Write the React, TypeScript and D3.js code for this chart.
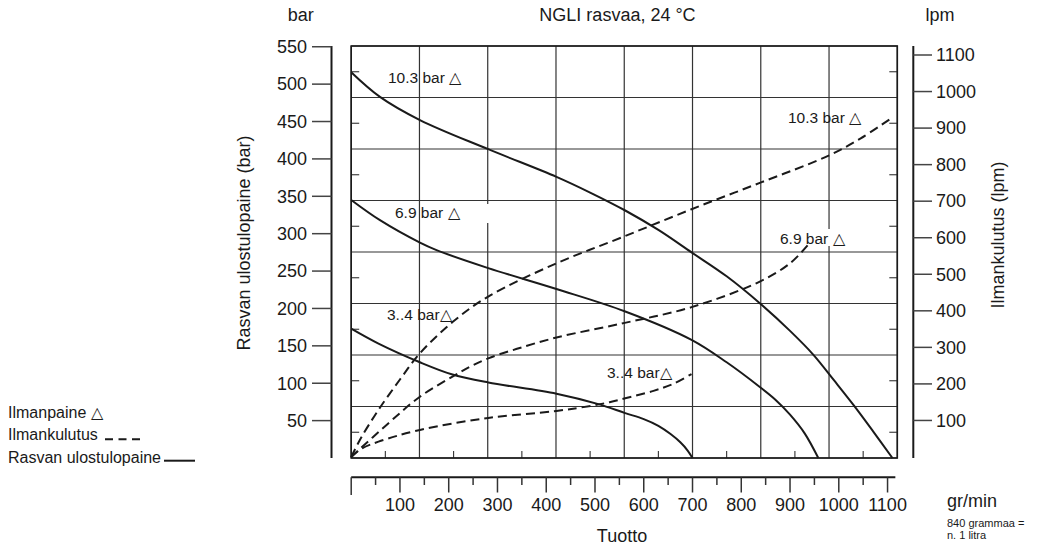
import React from "react";
import * as d3 from "d3";

// ---------- data ----------
// Tuotto (gr/min) vs Rasvan ulostulopaine (bar) — solid curves
const outlet103: [number, number][] = [
  [0, 516], [59, 483], [141, 452], [281, 413], [421, 376], [490, 355], [562, 331],
  [630, 305], [698, 275], [770, 243], [838, 207], [900, 170], [948, 138], [990, 104],
  [1030, 71], [1070, 36], [1110, 0],
];
const outlet69: [number, number][] = [
  [0, 345], [59, 318], [141, 288], [175, 278], [281, 254], [421, 226], [562, 196],
  [698, 158], [770, 128], [838, 95], [870, 78], [900, 58], [930, 33], [958, 0],
];
const outlet34: [number, number][] = [
  [0, 173], [56, 153], [141, 128], [206, 112], [281, 101], [421, 86], [507, 72],
  [562, 60], [600, 52], [630, 43], [655, 32], [675, 21], [690, 10], [700, 0],
];
// Tuotto (gr/min) vs Ilmankulutus (lpm) — dashed curves
const air103: [number, number][] = [
  [0, 0], [20, 52], [56, 129], [100, 212], [141, 284], [213, 375], [281, 439], [421, 530],
  [555, 601], [698, 678], [838, 750], [978, 824], [1045, 872], [1112, 931],
];
const air69: [number, number][] = [
  [0, 0], [76, 92], [141, 165], [213, 224], [245, 248], [281, 270], [340, 296], [421, 327],
  [561, 367], [698, 410], [838, 480], [900, 530], [938, 582],
];
const air34: [number, number][] = [
  [0, 0], [20, 22], [56, 42], [141, 74], [281, 107], [421, 126], [496, 141], [530, 150],
  [560, 160], [620, 181], [660, 200], [698, 227],
];

const leftTicks = [50, 100, 150, 200, 250, 300, 350, 400, 450, 500, 550];
const rightTicks = [100, 200, 300, 400, 500, 600, 700, 800, 900, 1000, 1100];
const bottomTicks = [100, 200, 300, 400, 500, 600, 700, 800, 900, 1000, 1100];
const bottomMinor = [50, 150, 250, 350, 450, 550, 650, 750, 850, 950, 1050];
const gridStep = 140; // gr/min per grid column
const gridRows = 8;

const title = "NGLI rasvaa, 24 °C";
const labelHigh = "10.3 bar △";
const labelMid = "6.9 bar △";
const labelLow = "3..4 bar△";

// ---------- layout ----------
const W = 1053;
const H = 546;
const boxL = 351.2;
const boxR = 897.3;
const boxT = 46;
const boxB = 458;
const FONT = "'Liberation Sans', Arial, Helvetica, sans-serif";
const INK = "#1a1a1a";

export default function App() {
  const x = d3.scaleLinear().domain([0, 1120]).range([boxL, boxR]);
  const yL = d3.scaleLinear().domain([0, 551]).range([boxB, boxT]);
  const yR = d3.scaleLinear().domain([0, 1100]).range([457, 55]);

  const curve = d3.curveCatmullRom.alpha(0.5);
  const solid = d3
    .line<[number, number]>()
    .x((d) => x(d[0]))
    .y((d) => yL(d[1]))
    .curve(curve);
  const dashed = d3
    .line<[number, number]>()
    .x((d) => x(d[0]))
    .y((d) => yR(d[1]))
    .curve(curve);

  const vGrid = d3.range(0, 1120 + 1, gridStep);
  const rowH = (boxB - boxT) / gridRows;
  const hGrid = d3.range(0, gridRows + 1).map((i) => boxT + i * rowH);
  const hMid = d3.range(0, gridRows).map((i) => boxT + (i + 0.5) * rowH);
  const vMid = d3.range(0, 8).map((i) => gridStep * (i + 0.5));

  const axisY = 477.3;

  return (
    <svg
      width={W}
      height={H}
      style={{ position: "absolute", left: 0, top: 0, background: "#fff" }}
      fontFamily={FONT}
    >
      <rect x={0} y={0} width={W} height={H} fill="#fff" />

      {/* grid */}
      {vGrid.map((v) => (
        <line key={"vg" + v} x1={x(v)} x2={x(v)} y1={boxT} y2={boxB} stroke="#333" strokeWidth={1.2} />
      ))}
      {hGrid.map((y, i) => (
        <line key={"hg" + i} x1={boxL} x2={boxR} y1={y} y2={y} stroke="#333" strokeWidth={1.2} />
      ))}
      {hMid.map((y, i) => (
        <g key={"hm" + i}>
          <line x1={boxL} x2={boxL + 8} y1={y} y2={y} stroke="#333" strokeWidth={1.1} />
          <line x1={boxR - 8} x2={boxR} y1={y} y2={y} stroke="#333" strokeWidth={1.1} />
        </g>
      ))}
      {vMid.map((v) => (
        <line key={"vm" + v} x1={x(v)} x2={x(v)} y1={boxB} y2={boxB - 7} stroke="#333" strokeWidth={1.1} />
      ))}
      <rect x={boxL} y={boxT} width={boxR - boxL} height={boxB - boxT} fill="none" stroke={INK} strokeWidth={1.6} />

      {/* white gaps behind some labels */}
      <rect x={470} y={204} width={24} height={19} fill="#fff" />
      <rect x={820} y={229} width={14} height={17} fill="#fff" />

      {/* dashed curves (air consumption) */}
      {[air103, air69, air34].map((d, i) => (
        <path key={"a" + i} d={dashed(d) || ""} fill="none" stroke={INK} strokeWidth={2} strokeDasharray="9 5" />
      ))}
      {/* solid curves (outlet pressure) */}
      {[outlet103, outlet69, outlet34].map((d, i) => (
        <path key={"o" + i} d={solid(d) || ""} fill="none" stroke={INK} strokeWidth={2} />
      ))}

      {/* curve labels */}
      <g fontSize={15.5} fill={INK}>
        <text x={388} y={83}>{labelHigh}</text>
        <text x={395} y={218}>{labelMid}</text>
        <text x={387} y={320}>{labelLow}</text>
        <text x={788} y={123}>{labelHigh}</text>
        <text x={780} y={244}>{labelMid}</text>
        <text x={607} y={378}>{labelLow}</text>
      </g>

      {/* left axis */}
      <line x1={331.5} x2={331.5} y1={boxT} y2={boxB} stroke={INK} strokeWidth={2} />
      {leftTicks.map((t) => (
        <g key={"lt" + t}>
          <line x1={312} x2={331.5} y1={yL(t)} y2={yL(t)} stroke="#444" strokeWidth={1.5} />
          <text x={307} y={yL(t)} dy="0.35em" textAnchor="end" fontSize={18} fill={INK}>
            {t}
          </text>
        </g>
      ))}
      <text x={300.7} y={21} textAnchor="middle" fontSize={18} fill={INK}>bar</text>
      <text transform="translate(250,243) rotate(-90)" textAnchor="middle" fontSize={18} fill={INK}>
        Rasvan ulostulopaine (bar)
      </text>

      {/* right axis */}
      <line x1={913.3} x2={913.3} y1={boxT} y2={boxB} stroke={INK} strokeWidth={2} />
      {rightTicks.map((t) => (
        <g key={"rt" + t}>
          <line x1={913.3} x2={932} y1={yR(t)} y2={yR(t)} stroke="#444" strokeWidth={1.5} />
          <text x={936} y={yR(t)} dy="0.35em" textAnchor="start" fontSize={18} fill={INK}>
            {t}
          </text>
        </g>
      ))}
      <text x={940} y={21} textAnchor="middle" fontSize={18} fill={INK}>lpm</text>
      <text transform="translate(1004,235) rotate(-90)" textAnchor="middle" fontSize={18} fill={INK}>
        Ilmankulutus (lpm)
      </text>

      {/* title */}
      <text x={617.5} y={21} textAnchor="middle" fontSize={18} fill={INK}>{title}</text>

      {/* bottom axis */}
      <line x1={x(0)} x2={x(1116)} y1={axisY} y2={axisY} stroke={INK} strokeWidth={2} />
      <line x1={x(0)} x2={x(0)} y1={axisY} y2={495} stroke="#333" strokeWidth={1.5} />
      {bottomMinor.map((t) => (
        <line key={"bm" + t} x1={x(t)} x2={x(t)} y1={axisY} y2={485} stroke="#333" strokeWidth={1.5} />
      ))}
      {bottomTicks.map((t) => (
        <g key={"bt" + t}>
          <line x1={x(t)} x2={x(t)} y1={axisY} y2={492.5} stroke="#333" strokeWidth={1.5} />
          <text x={x(t)} y={511} textAnchor="middle" fontSize={18} fill={INK}>
            {t}
          </text>
        </g>
      ))}
      <text x={622} y={541.5} textAnchor="middle" fontSize={18} fill={INK}>Tuotto</text>
      <text x={947} y={507} fontSize={18} fill={INK}>gr/min</text>
      <text x={947} y={526.5} fontSize={11} fill={INK}>840 grammaa =</text>
      <text x={947} y={539} fontSize={11} fill={INK}>n. 1 litra</text>

      {/* legend */}
      <g fontSize={16} fill={INK}>
        <text x={8} y={418}>Ilmanpaine △</text>
        <text x={8} y={440}>Ilmankulutus</text>
        <text x={8} y={462.5}>Rasvan ulostulopaine</text>
      </g>
      <line x1={105} x2={140} y1={439.3} y2={439.3} stroke={INK} strokeWidth={2} strokeDasharray="8 5.5" />
      <line x1={164} x2={195} y1={460.7} y2={460.7} stroke={INK} strokeWidth={2} />
    </svg>
  );
}
